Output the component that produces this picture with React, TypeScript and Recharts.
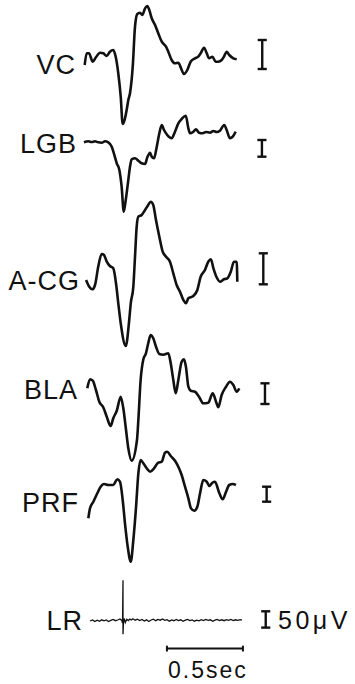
import { Line, LineChart, ReferenceLine, XAxis, YAxis } from "recharts";

// [ms from stimulus, amplitude]; amplitude is in trace units (up = positive)
type Pt = [number, number];

const VC: Pt[] = [
  [-252, 0], [-239, 11.7], [-224, 11.7], [-199, 3.3], [-178, 7.7], [-151, 12.3],
  [-130, 11.7], [-107, 9], [-86, 13.3], [-64, 15], [-48, 8.3], [-31, -8.3],
  [-15, -31.7], [-2, -59], [24, -45], [35, -35], [46, -28.3], [64, -1.7],
  [79, 38.3], [94, 51], [112, 52.3], [127, 50], [145, 56.7], [160, 59],
  [173, 55], [189, 46.7], [211, 40], [232, 31.7], [255, 23.3], [283, 18.3],
  [298, 13.3], [320, 5], [342, 1.7], [364, 2.3], [382, -3.3], [401, -9],
  [423, -5], [445, 3.3], [474, 6.7], [495, 8.3], [511, 11.7], [533, 17.3],
  [551, 11.7], [566, 6.7], [588, 8.3], [610, 3.3], [627, 3.3], [649, 5],
  [664, 8.3], [682, 13.3], [699, 10], [726, 6.7], [748, 5.7],
];

const LGB: Pt[] = [
  [-257, 2.7], [-228, 3.7], [-206, 3], [-184, 3.7], [-163, 2.7], [-140, 2.3],
  [-118, 3.7], [-97, 2.7], [-74, -1.7], [-57, -10], [-41, -18.3], [-24, -25],
  [-9, -41.7], [5, -66.7], [18, -55], [35, -35], [46, -21.7], [57, -14.3],
  [79, -13.3], [101, -15.7], [123, -18.3], [145, -19], [160, -12.3], [178, -7.7],
  [189, -11.7], [204, -13.3], [222, -1.7], [239, 11.7], [255, 20], [270, 15],
  [291, 10], [320, 6.7], [342, 13.3], [364, 21.7], [386, 26], [413, 29.3],
  [430, 16.7], [441, 11.7], [463, 13.3], [480, 15.7], [500, 12.3], [524, 11.7],
  [546, 13], [572, 12.3], [594, 14], [616, 13], [638, 14.3], [666, 20],
  [682, 15], [704, 6.7], [722, 8.3], [741, 13.3],
];

const ACG: Pt[] = [
  [-243, 5], [-222, -1.7], [-202, -4.3], [-184, 0], [-163, 18.3], [-140, 31],
  [-125, 30], [-107, 23.3], [-86, 19], [-64, 16.7], [-46, 1.7], [-31, -18.3],
  [-15, -38.3], [18, -61], [41, -35], [51, -18.3], [68, -1.7], [79, 28.3],
  [90, 58.3], [101, 68.3], [123, 70], [145, 75], [166, 80], [182, 83.3],
  [199, 80], [217, 65], [239, 48.3], [261, 33.3], [283, 28.3], [309, 23.3],
  [331, 11.7], [353, 0], [375, -6.7], [397, -15], [414, -18.3], [430, -13.3],
  [463, -11], [489, -5], [511, 8.3], [539, 15], [561, 23.3], [578, 25.7],
  [595, 16.7], [616, 7.7], [638, 3.3], [664, 5.7], [686, 6.7], [709, 13.3],
  [730, 23.3], [748, 23.3], [752, 3.3],
];

const BLA: Pt[] = [
  [-235, 11.7], [-217, 20.7], [-199, 19.3], [-178, 10], [-156, -1.7], [-130, -7.3],
  [-107, -16.7], [-81, -26], [-64, -18.3], [-41, -10.7], [-15, 3.3], [2, -8.3],
  [20, -30], [35, -48.3], [57, -60.7], [92, -40], [101, -20], [116, 20],
  [134, 40.7], [151, 46.7], [166, 56.7], [182, 65], [199, 61.7], [217, 53.3],
  [239, 46], [265, 45.3], [298, 46.7], [314, 36.7], [331, 20], [347, 6.7],
  [364, 20], [386, 38.3], [401, 40.7], [414, 33.3], [430, 13.3], [445, 9.3],
  [474, 8.3], [502, 2.7], [528, -3.3], [561, -2.7], [590, 6.7], [612, -1.7],
  [627, -7.3], [649, 5], [678, 13.3], [704, 18.3], [726, 15], [748, 8.3],
  [765, 11.7],
];

const PRF: Pt[] = [
  [-228, -8.3], [-217, 1.7], [-195, 8.3], [-169, 16.7], [-147, 23.3], [-125, 26],
  [-97, 25], [-64, 25], [-38, 30.7], [-20, 28.3], [-2, 10], [13, -13.3],
  [31, -36.7], [51, -51.7], [68, -30], [86, 3.3], [101, 36.7], [116, 50],
  [134, 46.7], [156, 41.7], [178, 38.3], [204, 41.7], [232, 47.3], [255, 48.3],
  [276, 57.3], [291, 58.3], [314, 54], [342, 49.3], [364, 43.3], [386, 35],
  [408, 23.3], [430, 11.7], [447, 1.7], [469, -0.7], [489, 3.3], [507, 16.7],
  [528, 30], [551, 28.3], [568, 24], [588, 27.3], [605, 28.3], [634, 16.7],
  [656, 10.7], [678, 18.3], [699, 25], [722, 26], [743, 25],
];

// lateral rectus: flat noisy trace with the stimulus mark at 0
const LR: Pt[] = [
  [-217, 0], [-200, 1], [-185, -0.5], [-170, 0.8], [-155, -0.3], [-140, 1.2],
  [-125, 0.2], [-110, 1], [-95, -0.5], [-80, 0.6], [-65, 1.5], [-50, 0.3],
  [-35, 1], [-20, 2], [-8, 0.5], [-3, -2], [0, 40.7], [0, -13.3], [3, -2],
  [8, 2.5], [15, -1.5], [25, 1.8], [35, 0.5], [45, 2], [55, 1], [65, 2.2],
  [80, 0.8], [95, 1.8], [110, 0.5], [125, 1.5], [140, 0], [155, 1.2],
  [170, -0.5], [185, 1], [200, 1.8], [215, 0.3], [230, 1.5], [245, 0.8],
  [260, 2], [275, 0.6], [290, 1.4], [305, -0.2], [320, 1], [335, 0.3],
  [350, 1.6], [365, 0.5], [380, 1.2], [395, -0.3], [410, 0.8], [425, 1.5],
  [440, 0.4], [455, 1.1], [470, -0.2], [485, 0.9], [500, 0.2], [515, 1.3],
  [530, 0.5], [545, 1.6], [560, 0.6], [575, 1.2], [590, -0.3], [605, 0.9],
  [620, 1.6], [635, 0.4], [650, 1.2], [665, 0.3], [680, 1.4], [695, 0.7],
  [710, 1.5], [725, 0.4], [740, 1.2], [755, 0.6], [770, 1.3], [783, 0.8],
];

// height of the 50 µV calibration bar in each trace's units
const BAR_50UV = [29, 16.7, 31, 20.7, 15, 16.3];
const TIME_BAR_MS = [289, 789];

const FONT = '"Liberation Sans", Arial, Helvetica, sans-serif';
const X_DOMAIN: [number, number] = [-300, 1000];
const H = 180;

const ROWS = [
  { label: "VC", data: VC, center: 65, labelY: 65.5, labelRight: 76, barT: 916, barLo: -4 },
  { label: "LGB", data: LGB, center: 145, labelY: 144, labelRight: 77, barT: 914, barLo: -11.7 },
  { label: "A-CG", data: ACG, center: 285, labelY: 281, labelRight: 80, barT: 923, barLo: 0.7 },
  { label: "BLA", data: BLA, center: 400, labelY: 390.5, labelRight: 78, barT: 934, barLo: -4 },
  { label: "PRF", data: PRF, center: 510, labelY: 503.5, labelRight: 79, barT: 945, barLo: 8.3 },
  { label: "LR", data: LR, center: 620.7, labelY: 620.7, labelRight: 83, barT: 939, barLo: -6.6 },
];

function segs(key: string, pairs: [number, number, number, number][], w: number) {
  return pairs.map(([x1, y1, x2, y2], i) => (
    <ReferenceLine
      key={`${key}-${i}`}
      segment={[{ x: x1, y: y1 }, { x: x2, y: y2 }]}
      stroke="#111"
      strokeWidth={w}
      ifOverflow="visible"
    />
  ));
}

function Trace({ row, bar, last }: { row: (typeof ROWS)[number]; bar: number; last: boolean }) {
  const data = row.data.map(([t, v]) => ({ t, v }));
  const lo = row.barLo;
  const hi = row.barLo + bar;
  const cap = 30;
  const calib = segs(row.label, [
    [row.barT, lo, row.barT, hi],
    [row.barT - cap, lo, row.barT + cap, lo],
    [row.barT - cap, hi, row.barT + cap, hi],
  ], 2.4);
  const timeBar = last
    ? segs("time", [
        [TIME_BAR_MS[0], -27.6, TIME_BAR_MS[1], -27.6],
        [TIME_BAR_MS[0], -30.5, TIME_BAR_MS[0], -24.7],
        [TIME_BAR_MS[1], -30.5, TIME_BAR_MS[1], -24.7],
      ], 2)
    : [];
  return (
    <div style={{ position: "absolute", left: 0, top: row.center - H / 2 }}>
      <LineChart width={355} height={H} data={data} margin={{ top: 0, right: 80, bottom: 0, left: 77.4 }}>
        <XAxis type="number" dataKey="t" domain={X_DOMAIN} hide />
        <YAxis type="number" domain={[-H / 2, H / 2]} hide />
        <Line
          type={last ? "linear" : "monotone"}
          dataKey="v"
          stroke="#111"
          strokeWidth={last ? 1.3 : 2.6}
          dot={false}
          isAnimationActive={false}
        />
        {calib}
        {timeBar}
      </LineChart>
    </div>
  );
}

const labelStyle = (fs: number): React.CSSProperties => ({
  position: "absolute",
  fontFamily: FONT,
  fontSize: fs,
  lineHeight: 1,
  color: "#111",
  whiteSpace: "nowrap",
});

export default function App() {
  return (
    <div style={{ position: "relative", width: 355, height: 684, overflow: "hidden", background: "#fff" }}>
      <style>{"body{margin:0}"}</style>
      {ROWS.map((r, i) => (
        <Trace key={r.label} row={r} bar={BAR_50UV[i]} last={i === ROWS.length - 1} />
      ))}
      {ROWS.map((r) => (
        <div
          key={`lbl-${r.label}`}
          style={{ ...labelStyle(27), right: 355 - r.labelRight, top: r.labelY - 0.4885 * 27, letterSpacing: 1 }}
        >
          {r.label}
        </div>
      ))}
      <div style={{ ...labelStyle(25), left: 278, top: 611 - 0.13 * 25, letterSpacing: 3.5 }}>50μV</div>
      <div style={{ ...labelStyle(23), left: 168, top: 661.7 - 0.13 * 23, letterSpacing: 2 }}>0.5sec</div>
    </div>
  );
}
